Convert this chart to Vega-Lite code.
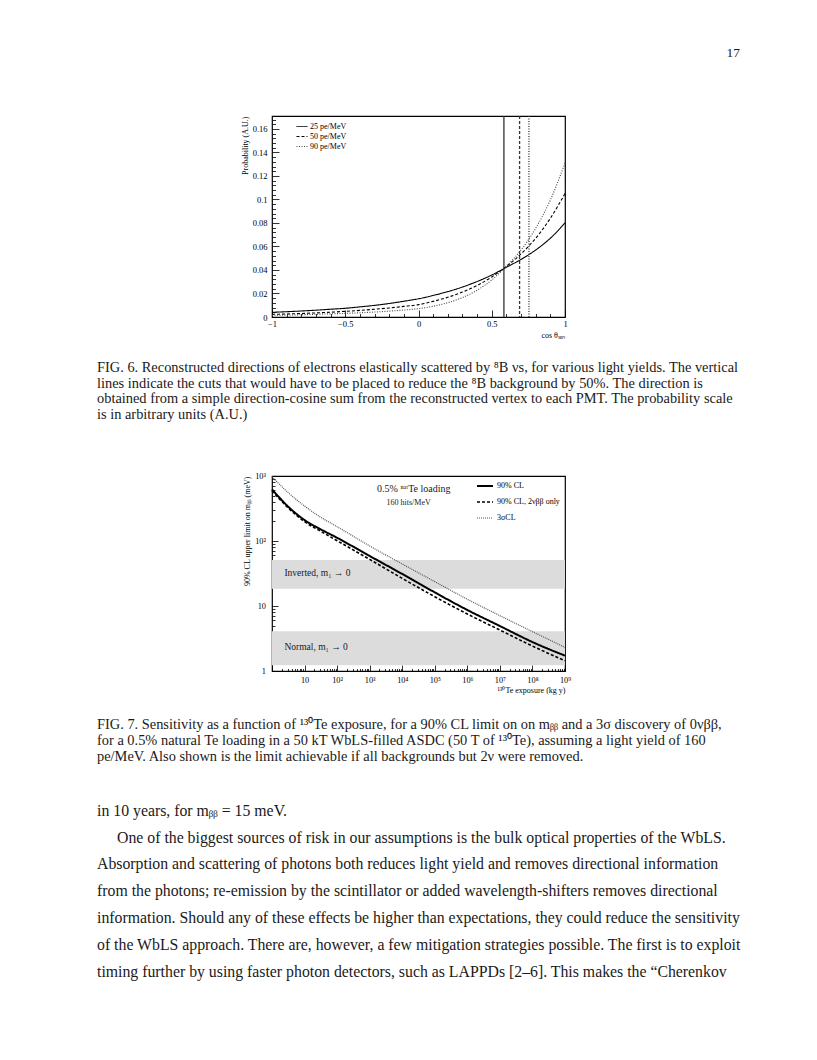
{
 "$schema": "https://vega.github.io/schema/vega-lite/v6.json",
 "background": "white",
 "padding": {"left": 97, "top": 0, "right": 0, "bottom": 0},
 "bounds": "flush",
 "center": true,
 "spacing": 0,
 "resolve": {
  "scale": {"color": "independent", "strokeDash": "independent", "strokeWidth": "independent"},
  "legend": {"color": "independent", "strokeDash": "independent", "strokeWidth": "independent"}
 },
 "config": {
  "view": {"stroke": null},
  "font": "Liberation Serif",
  "axis": {"grid": false, "domain": false, "labelOverlap": false, "tickColor": "black", "tickWidth": 0.8, "labelColor": "black", "titleColor": "black", "labelFont": "Liberation Serif", "titleFont": "Liberation Serif", "titleFontWeight": "normal"},
  "legend": {"labelFont": "Liberation Serif", "labelColor": "black"}
 },
 "vconcat": [
  {
   "width": 643, "height": 116,
   "view": {"stroke": null},
   "data": {"values": [{"line": 0, "text": "17"}]},
   "mark": {"type": "text", "align": "right", "baseline": "middle", "font": "Liberation Serif", "fontSize": 13.5, "color": "#1a1a1a"},
   "encoding": {
    "x": {"value": "width"},
    "y": {"field": "line", "type": "quantitative", "scale": {"domain": [-1, 1.19], "reverse": true, "nice": false, "zero": false}, "axis": null},
    "text": {"field": "text"}
   }
  },
  {
   "width": 293, "height": 201,
   "view": {"stroke": "black", "strokeWidth": 1.2},
   "layer": [
    {
     "data": {"values": [
      {"cos": -1.0, "p": 0.0040, "ly": "25 pe/MeV"}, {"cos": -0.9, "p": 0.0045, "ly": "25 pe/MeV"}, {"cos": -0.8, "p": 0.0051, "ly": "25 pe/MeV"}, {"cos": -0.7, "p": 0.0058, "ly": "25 pe/MeV"}, {"cos": -0.6, "p": 0.0066, "ly": "25 pe/MeV"}, {"cos": -0.5, "p": 0.0074, "ly": "25 pe/MeV"}, {"cos": -0.4, "p": 0.0086, "ly": "25 pe/MeV"}, {"cos": -0.3, "p": 0.0099, "ly": "25 pe/MeV"}, {"cos": -0.2, "p": 0.0115, "ly": "25 pe/MeV"}, {"cos": -0.1, "p": 0.0134, "ly": "25 pe/MeV"}, {"cos": 0.0, "p": 0.0155, "ly": "25 pe/MeV"}, {"cos": 0.1, "p": 0.0183, "ly": "25 pe/MeV"}, {"cos": 0.2, "p": 0.0216, "ly": "25 pe/MeV"}, {"cos": 0.3, "p": 0.0255, "ly": "25 pe/MeV"}, {"cos": 0.4, "p": 0.0302, "ly": "25 pe/MeV"}, {"cos": 0.5, "p": 0.0357, "ly": "25 pe/MeV"}, {"cos": 0.6, "p": 0.0423, "ly": "25 pe/MeV"}, {"cos": 0.7, "p": 0.0490, "ly": "25 pe/MeV"}, {"cos": 0.8, "p": 0.0570, "ly": "25 pe/MeV"}, {"cos": 0.9, "p": 0.0670, "ly": "25 pe/MeV"}, {"cos": 1.0, "p": 0.0800, "ly": "25 pe/MeV"},
      {"cos": -1.0, "p": 0.0022, "ly": "50 pe/MeV"}, {"cos": -0.9, "p": 0.0026, "ly": "50 pe/MeV"}, {"cos": -0.8, "p": 0.0030, "ly": "50 pe/MeV"}, {"cos": -0.7, "p": 0.0035, "ly": "50 pe/MeV"}, {"cos": -0.6, "p": 0.0041, "ly": "50 pe/MeV"}, {"cos": -0.5, "p": 0.0048, "ly": "50 pe/MeV"}, {"cos": -0.4, "p": 0.0056, "ly": "50 pe/MeV"}, {"cos": -0.3, "p": 0.0066, "ly": "50 pe/MeV"}, {"cos": -0.2, "p": 0.0077, "ly": "50 pe/MeV"}, {"cos": -0.1, "p": 0.0090, "ly": "50 pe/MeV"}, {"cos": 0.0, "p": 0.0105, "ly": "50 pe/MeV"}, {"cos": 0.1, "p": 0.0133, "ly": "50 pe/MeV"}, {"cos": 0.2, "p": 0.0168, "ly": "50 pe/MeV"}, {"cos": 0.3, "p": 0.0212, "ly": "50 pe/MeV"}, {"cos": 0.4, "p": 0.0268, "ly": "50 pe/MeV"}, {"cos": 0.5, "p": 0.0340, "ly": "50 pe/MeV"}, {"cos": 0.6, "p": 0.0430, "ly": "50 pe/MeV"}, {"cos": 0.7, "p": 0.0537, "ly": "50 pe/MeV"}, {"cos": 0.8, "p": 0.0670, "ly": "50 pe/MeV"}, {"cos": 0.9, "p": 0.0840, "ly": "50 pe/MeV"}, {"cos": 1.0, "p": 0.1050, "ly": "50 pe/MeV"},
      {"cos": -1.0, "p": 0.0014, "ly": "90 pe/MeV"}, {"cos": -0.9, "p": 0.0016, "ly": "90 pe/MeV"}, {"cos": -0.8, "p": 0.0019, "ly": "90 pe/MeV"}, {"cos": -0.7, "p": 0.0023, "ly": "90 pe/MeV"}, {"cos": -0.6, "p": 0.0027, "ly": "90 pe/MeV"}, {"cos": -0.5, "p": 0.0031, "ly": "90 pe/MeV"}, {"cos": -0.4, "p": 0.0036, "ly": "90 pe/MeV"}, {"cos": -0.3, "p": 0.0042, "ly": "90 pe/MeV"}, {"cos": -0.2, "p": 0.0050, "ly": "90 pe/MeV"}, {"cos": -0.1, "p": 0.0059, "ly": "90 pe/MeV"}, {"cos": 0.0, "p": 0.0071, "ly": "90 pe/MeV"}, {"cos": 0.1, "p": 0.0091, "ly": "90 pe/MeV"}, {"cos": 0.2, "p": 0.0122, "ly": "90 pe/MeV"}, {"cos": 0.3, "p": 0.0165, "ly": "90 pe/MeV"}, {"cos": 0.4, "p": 0.0228, "ly": "90 pe/MeV"}, {"cos": 0.5, "p": 0.0315, "ly": "90 pe/MeV"}, {"cos": 0.6, "p": 0.0433, "ly": "90 pe/MeV"}, {"cos": 0.7, "p": 0.0570, "ly": "90 pe/MeV"}, {"cos": 0.8, "p": 0.0755, "ly": "90 pe/MeV"}, {"cos": 0.9, "p": 0.0995, "ly": "90 pe/MeV"}, {"cos": 1.0, "p": 0.1310, "ly": "90 pe/MeV"}
     ]},
     "mark": {"type": "line", "interpolate": "monotone", "strokeWidth": 1.1},
     "encoding": {
      "x": {"field": "cos", "type": "quantitative",
       "scale": {"domain": [-1, 1], "nice": false, "zero": false},
       "axis": {
        "values": [-1,-0.9,-0.8,-0.7,-0.6,-0.5,-0.4,-0.3,-0.2,-0.1,0,0.1,0.2,0.3,0.4,0.5,0.6,0.7,0.8,0.9,1],
        "labelExpr": "abs(datum.value*2 - round(datum.value*2)) < 1e-6 ? format(datum.value, '~g') : ''",
        "labelFontSize": 8.5, "labelFlush": false, "labelOverlap": false,
        "tickSize": {"condition": {"test": "abs(datum.value*2 - round(datum.value*2)) < 1e-6", "value": -7}, "value": -3.5},
        "labelPadding": 9,
        "title": "cos θₛᵤₙ", "titleAnchor": "end", "titleFontSize": 8, "titlePadding": 0
       }},
      "y": {"field": "p", "type": "quantitative",
       "scale": {"domain": [0, 0.171], "nice": false, "zero": false},
       "axis": {
        "values": [0,0.004,0.008,0.012,0.016,0.02,0.024,0.028,0.032,0.036,0.04,0.044,0.048,0.052,0.056,0.06,0.064,0.068,0.072,0.076,0.08,0.084,0.088,0.092,0.096,0.1,0.104,0.108,0.112,0.116,0.12,0.124,0.128,0.132,0.136,0.14,0.144,0.148,0.152,0.156,0.16,0.164,0.168],
        "labelExpr": "abs(datum.value*50 - round(datum.value*50)) < 1e-6 ? format(datum.value, '~g') : ''",
        "labelFontSize": 8.5, "labelFlush": false, "labelOverlap": false,
        "tickSize": {"condition": {"test": "abs(datum.value*50 - round(datum.value*50)) < 1e-6", "value": -7}, "value": -3.5},
        "labelPadding": 12,
        "title": "Probability (A.U.)", "titleAnchor": "end", "titleFontSize": 8, "titlePadding": 3
       }},
      "color": {"field": "ly", "type": "nominal",
       "scale": {"domain": ["25 pe/MeV", "50 pe/MeV", "90 pe/MeV"], "range": ["#000000", "#000000", "#444444"]},
       "legend": {"title": null, "orient": "none", "legendX": 24, "legendY": 4.5, "labelFontSize": 8, "symbolSize": 121, "symbolStrokeWidth": 1, "rowPadding": -1, "labelOffset": 2, "padding": 0}},
      "strokeDash": {"field": "ly", "type": "nominal",
       "scale": {"domain": ["25 pe/MeV", "50 pe/MeV", "90 pe/MeV"], "range": [[1, 0], [3, 2], [1, 1.5]]},
       "legend": {"title": null, "orient": "none", "legendX": 24, "legendY": 4.5, "labelFontSize": 8, "symbolSize": 121, "symbolStrokeWidth": 1, "rowPadding": -1, "labelOffset": 2, "padding": 0}}
     }
    },
    {
     "data": {"values": [
      {"cut": 0.583, "ly": "25 pe/MeV"},
      {"cut": 0.690, "ly": "50 pe/MeV"},
      {"cut": 0.754, "ly": "90 pe/MeV"}
     ]},
     "mark": {"type": "rule", "strokeWidth": 1.3, "color": "#333333"},
     "encoding": {
      "x": {"field": "cut", "type": "quantitative",
       "axis": {
        "values": [-1,-0.9,-0.8,-0.7,-0.6,-0.5,-0.4,-0.3,-0.2,-0.1,0,0.1,0.2,0.3,0.4,0.5,0.6,0.7,0.8,0.9,1],
        "labelExpr": "abs(datum.value*2 - round(datum.value*2)) < 1e-6 ? format(datum.value, '~g') : ''",
        "labelFontSize": 8.5, "labelFlush": false, "labelOverlap": false,
        "tickSize": {"condition": {"test": "abs(datum.value*2 - round(datum.value*2)) < 1e-6", "value": -7}, "value": -3.5},
        "labelPadding": 9,
        "title": "cos θₛᵤₙ", "titleAnchor": "end", "titleFontSize": 8, "titlePadding": 0
       }},
      "strokeDash": {"field": "ly", "type": "nominal"}
     }
    }
   ]
  },
  {
   "width": 643, "height": 159,
   "view": {"stroke": null},
   "data": {"values": [
    {"line": 0, "text": "FIG. 6. Reconstructed directions of electrons elastically scattered by ⁸B νs, for various light yields. The vertical"},
    {"line": 1, "text": "lines indicate the cuts that would have to be placed to reduce the ⁸B background by 50%. The direction is"},
    {"line": 2, "text": "obtained from a simple direction-cosine sum from the reconstructed vertex to each PMT. The probability scale"},
    {"line": 3, "text": "is in arbitrary units (A.U.)"}
   ]},
   "mark": {"type": "text", "align": "left", "baseline": "middle", "font": "Liberation Serif", "fontSize": 14.4, "color": "#1a1a1a"},
   "encoding": {
    "x": {"value": 0},
    "y": {"field": "line", "type": "quantitative", "scale": {"domain": [-3.31, 6.95], "reverse": true, "nice": false, "zero": false}, "axis": null},
    "text": {"field": "text"}
   }
  },
  {
   "width": 293, "height": 195,
   "view": {"stroke": "black", "strokeWidth": 1.2},
   "layer": [
    {
     "data": {"values": [
      {"lo": 18.5, "hi": 51},
      {"lo": 1.23, "hi": 4.1}
     ]},
     "mark": {"type": "rect", "color": "#dcdcdc"},
     "encoding": {
      "y": {"field": "lo", "type": "quantitative"},
      "y2": {"field": "hi"}
     }
    },
    {
     "data": {"values": [
      {"exp": 1, "lim": 624, "s": "90% CL"}, {"exp": 3.16, "lim": 337, "s": "90% CL"}, {"exp": 10, "lim": 210, "s": "90% CL"}, {"exp": 31.6, "lim": 151, "s": "90% CL"}, {"exp": 100, "lim": 112, "s": "90% CL"}, {"exp": 1000, "lim": 58.8, "s": "90% CL"}, {"exp": 10000, "lim": 31.1, "s": "90% CL"}, {"exp": 100000, "lim": 16.2, "s": "90% CL"}, {"exp": 1000000, "lim": 8.68, "s": "90% CL"}, {"exp": 10000000, "lim": 4.92, "s": "90% CL"}, {"exp": 100000000, "lim": 2.79, "s": "90% CL"}, {"exp": 1000000000, "lim": 1.72, "s": "90% CL"},
      {"exp": 1, "lim": 595, "s": "90% CL, 2νββ only"}, {"exp": 3.16, "lim": 322, "s": "90% CL, 2νββ only"}, {"exp": 10, "lim": 198, "s": "90% CL, 2νββ only"}, {"exp": 31.6, "lim": 141, "s": "90% CL, 2νββ only"}, {"exp": 100, "lim": 101, "s": "90% CL, 2νββ only"}, {"exp": 1000, "lim": 52.2, "s": "90% CL, 2νββ only"}, {"exp": 10000, "lim": 26.6, "s": "90% CL, 2νββ only"}, {"exp": 100000, "lim": 13.9, "s": "90% CL, 2νββ only"}, {"exp": 1000000, "lim": 7.53, "s": "90% CL, 2νββ only"}, {"exp": 10000000, "lim": 4.27, "s": "90% CL, 2νββ only"}, {"exp": 100000000, "lim": 2.42, "s": "90% CL, 2νββ only"}, {"exp": 1000000000, "lim": 1.44, "s": "90% CL, 2νββ only"},
      {"exp": 1, "lim": 977, "s": "3σCL"}, {"exp": 3.16, "lim": 554, "s": "3σCL"}, {"exp": 10, "lim": 345, "s": "3σCL"}, {"exp": 31.6, "lim": 231, "s": "3σCL"}, {"exp": 100, "lim": 166, "s": "3σCL"}, {"exp": 1000, "lim": 83.8, "s": "3σCL"}, {"exp": 10000, "lim": 44.3, "s": "3σCL"}, {"exp": 100000, "lim": 23.7, "s": "3σCL"}, {"exp": 1000000, "lim": 12.7, "s": "3σCL"}, {"exp": 10000000, "lim": 7.10, "s": "3σCL"}, {"exp": 100000000, "lim": 4.03, "s": "3σCL"}, {"exp": 1000000000, "lim": 2.31, "s": "3σCL"}
     ]},
     "mark": {"type": "line", "interpolate": "monotone"},
     "encoding": {
      "x": {"field": "exp", "type": "quantitative",
       "scale": {"type": "log", "domain": [1, 1000000000], "nice": false},
       "axis": {
        "values": [1,2,3,4,5,6,7,8,9,10,20,30,40,50,60,70,80,90,100,200,300,400,500,600,700,800,900,1e3,2e3,3e3,4e3,5e3,6e3,7e3,8e3,9e3,1e4,2e4,3e4,4e4,5e4,6e4,7e4,8e4,9e4,1e5,2e5,3e5,4e5,5e5,6e5,7e5,8e5,9e5,1e6,2e6,3e6,4e6,5e6,6e6,7e6,8e6,9e6,1e7,2e7,3e7,4e7,5e7,6e7,7e7,8e7,9e7,1e8,2e8,3e8,4e8,5e8,6e8,7e8,8e8,9e8,1e9],
        "labelExpr": "abs(log(datum.value)/LN10 - round(log(datum.value)/LN10)) < 1e-6 ? ['','10','10²','10³','10⁴','10⁵','10⁶','10⁷','10⁸','10⁹'][round(log(datum.value)/LN10)] : ''",
        "labelFontSize": 8.3, "labelFlush": false, "labelOverlap": false,
        "tickSize": {"condition": {"test": "abs(log(datum.value)/LN10 - round(log(datum.value)/LN10)) < 1e-6", "value": -6}, "value": -2.5},
        "labelPadding": 10,
        "title": "¹³⁰Te exposure (kg y)", "titleAnchor": "end", "titleFontSize": 8, "titlePadding": 0
       }},
      "y": {"field": "lim", "type": "quantitative",
       "scale": {"type": "log", "domain": [1, 1000], "nice": false},
       "axis": {
        "values": [1,2,3,4,5,6,7,8,9,10,20,30,40,50,60,70,80,90,100,200,300,400,500,600,700,800,900,1000],
        "labelExpr": "abs(log(datum.value)/LN10 - round(log(datum.value)/LN10)) < 1e-6 ? ['1','10','10²','10³'][round(log(datum.value)/LN10)] : ''",
        "labelFontSize": 8.3, "labelFlush": false, "labelOverlap": false,
        "tickSize": {"condition": {"test": "abs(log(datum.value)/LN10 - round(log(datum.value)/LN10)) < 1e-6", "value": -6}, "value": -3},
        "labelPadding": 12.5,
        "title": "90% CL upper limit on mᵦᵦ (meV)", "titleAnchor": "end", "titleFontSize": 8, "titlePadding": 3
       }},
      "color": {"field": "s", "type": "nominal",
       "scale": {"domain": ["90% CL", "90% CL, 2νββ only", "3σCL"], "range": ["#000000", "#000000", "#555555"]},
       "legend": {"title": null, "orient": "none", "legendX": 204, "legendY": 1, "labelFontSize": 8, "symbolSize": 256, "rowPadding": 3, "labelOffset": 3, "padding": 0}},
      "strokeDash": {"field": "s", "type": "nominal",
       "scale": {"domain": ["90% CL", "90% CL, 2νββ only", "3σCL"], "range": [[1, 0], [3, 2], [1, 1]]},
       "legend": {"title": null, "orient": "none", "legendX": 204, "legendY": 1, "labelFontSize": 8, "symbolSize": 256, "rowPadding": 3, "labelOffset": 3, "padding": 0}},
      "strokeWidth": {"field": "s", "type": "nominal",
       "scale": {"domain": ["90% CL", "90% CL, 2νββ only", "3σCL"], "range": [2, 1.2, 0.9]},
       "legend": {"title": null, "orient": "none", "legendX": 204, "legendY": 1, "labelFontSize": 8, "symbolSize": 256, "rowPadding": 3, "labelOffset": 3, "padding": 0}}
     }
    },
    {
     "data": {"values": [
      {"exp": 2.4, "lim": 31.8, "t": "Inverted, m₁ → 0"},
      {"exp": 2.4, "lim": 2.37, "t": "Normal, m₁ → 0"}
     ]},
     "mark": {"type": "text", "align": "left", "baseline": "middle", "font": "Liberation Serif", "fontSize": 9.5, "color": "#1a1a1a"},
     "encoding": {
      "x": {"field": "exp", "type": "quantitative"},
      "y": {"field": "lim", "type": "quantitative"},
      "text": {"field": "t"}
     }
    },
    {
     "data": {"values": [
      {"exp": 22700, "lim": 631, "t": "0.5% ⁿᵃᵗTe loading"}
     ]},
     "mark": {"type": "text", "align": "center", "baseline": "middle", "font": "Liberation Serif", "fontSize": 10, "color": "#1a1a1a"},
     "encoding": {
      "x": {"field": "exp", "type": "quantitative"},
      "y": {"field": "lim", "type": "quantitative"},
      "text": {"field": "t"}
     }
    },
    {
     "data": {"values": [
      {"exp": 15700, "lim": 380, "t": "160 hits/MeV"}
     ]},
     "mark": {"type": "text", "align": "center", "baseline": "middle", "font": "Liberation Serif", "fontSize": 8, "color": "#1a1a1a"},
     "encoding": {
      "x": {"field": "exp", "type": "quantitative"},
      "y": {"field": "lim", "type": "quantitative"},
      "text": {"field": "t"}
     }
    }
   ]
  },
  {
   "width": 643, "height": 112,
   "view": {"stroke": null},
   "data": {"values": [
    {"line": 0, "text": "FIG. 7. Sensitivity as a function of ¹³⁰Te exposure, for a 90% CL limit on on mᵦᵦ and a 3σ discovery of 0νββ,"},
    {"line": 1, "text": "for a 0.5% natural Te loading in a 50 kT WbLS-filled ASDC (50 T of ¹³⁰Te), assuming a light yield of 160"},
    {"line": 2, "text": "pe/MeV. Also shown is the limit achievable if all backgrounds but 2ν were removed."}
   ]},
   "mark": {"type": "text", "align": "left", "baseline": "middle", "font": "Liberation Serif", "fontSize": 14.4, "color": "#1a1a1a"},
   "encoding": {
    "x": {"value": 0},
    "y": {"field": "line", "type": "quantitative", "scale": {"domain": [-3.418, 3.671], "reverse": true, "nice": false, "zero": false}, "axis": null},
    "text": {"field": "text"}
   }
  },
  {
   "width": 643, "height": 277,
   "view": {"stroke": null},
   "data": {"values": [
    {"line": 0, "text": "in 10 years, for mᵦᵦ = 15 meV."},
    {"line": 1, "text": "One of the biggest sources of risk in our assumptions is the bulk optical properties of the WbLS."},
    {"line": 2, "text": "Absorption and scattering of photons both reduces light yield and removes directional information"},
    {"line": 3, "text": "from the photons; re-emission by the scintillator or added wavelength-shifters removes directional"},
    {"line": 4, "text": "information. Should any of these effects be higher than expectations, they could reduce the sensitivity"},
    {"line": 5, "text": "of the WbLS approach. There are, however, a few mitigation strategies possible. The first is to exploit"},
    {"line": 6, "text": "timing further by using faster photon detectors, such as LAPPDs [2–6]. This makes the “Cherenkov"}
   ]},
   "layer": [
    {
     "transform": [{"filter": "datum.line != 1"}],
     "mark": {"type": "text", "align": "left", "baseline": "middle", "font": "Liberation Serif", "fontSize": 15.8, "color": "#1a1a1a"},
     "encoding": {
      "x": {"value": 0},
      "y": {"field": "line", "type": "quantitative", "scale": {"domain": [-1.03, 9.27], "reverse": true, "nice": false, "zero": false}, "axis": null},
      "text": {"field": "text"}
     }
    },
    {
     "transform": [{"filter": "datum.line == 1"}],
     "mark": {"type": "text", "align": "left", "baseline": "middle", "font": "Liberation Serif", "fontSize": 15.8, "color": "#1a1a1a", "dx": 20},
     "encoding": {
      "x": {"value": 0},
      "y": {"field": "line", "type": "quantitative", "axis": null},
      "text": {"field": "text"}
     }
    }
   ]
  }
 ]
}
